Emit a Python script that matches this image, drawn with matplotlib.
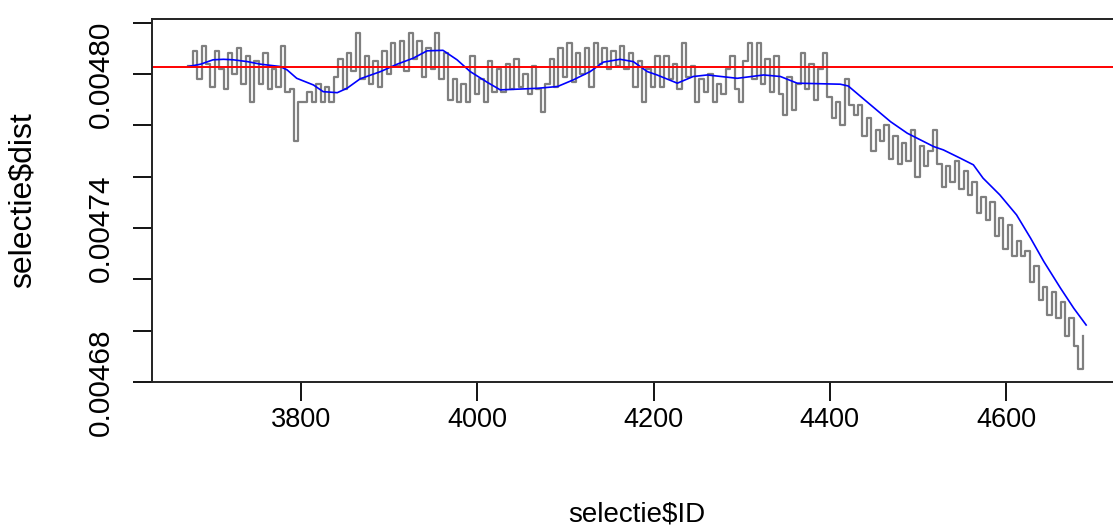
import numpy as np
import matplotlib
matplotlib.use("Agg")
import matplotlib.pyplot as plt

plt.rcParams["font.family"] = ["Liberation Sans", "DejaVu Sans"]

# selectie$dist, one value every 5 IDs starting at ID 3672 (step plot)
gray_start = 3672
gray_step = 5
gray_dist = [
    # 3672 - 3777
    0.004803, 0.004809, 0.004798, 0.004811, 0.004804, 0.004795, 0.004809, 0.004802,
    0.004794, 0.004808, 0.004800, 0.004810, 0.004796, 0.004807, 0.004789, 0.004805,
    0.004796, 0.004808, 0.004794, 0.004802, 0.004795, 0.004811,
    # 3782 - 3832
    0.004793, 0.004794, 0.004774, 0.004789, 0.004789, 0.004793, 0.004789, 0.004796,
    0.004789, 0.004795, 0.004789,
    # 3837 - 3887
    0.004799, 0.004806, 0.004794, 0.004808, 0.004801, 0.004816, 0.004798, 0.004807,
    0.004796, 0.004805, 0.004795,
    # 3892 - 3962
    0.004809, 0.004800, 0.004812, 0.004803, 0.004813, 0.004801, 0.004816, 0.004806,
    0.004813, 0.004799, 0.004810, 0.004802, 0.004816, 0.004798, 0.004808,
    # 3967 - 4022
    0.004790, 0.004798, 0.004789, 0.004796, 0.004789, 0.004807, 0.004792, 0.004798,
    0.004789, 0.004805, 0.004793, 0.004802,
    # 4027 - 4077
    0.004793, 0.004804, 0.004794, 0.004806, 0.004795, 0.004800, 0.004792, 0.004803,
    0.004794, 0.004785, 0.004796,
    # 4082 - 4132
    0.004806, 0.004795, 0.004810, 0.004799, 0.004812, 0.004797, 0.004808, 0.004800,
    0.004810, 0.004795, 0.004812,
    # 4137 - 4192
    0.004804, 0.004810, 0.004802, 0.004809, 0.004803, 0.004811, 0.004802, 0.004808,
    0.004795, 0.004805, 0.004789, 0.004802,
    # 4197 - 4292
    0.004795, 0.004807, 0.004795, 0.004807, 0.004798, 0.004804, 0.004794, 0.004812,
    0.004799, 0.004803, 0.004789, 0.004798, 0.004793, 0.004800, 0.004789, 0.004796,
    0.004792, 0.004802, 0.004807, 0.004794,
    # 4297 - 4392
    0.004789, 0.004805, 0.004812, 0.004798, 0.004812, 0.004796, 0.004806, 0.004793,
    0.004807, 0.004792, 0.004784, 0.004799, 0.004786, 0.004796, 0.004808, 0.004794,
    0.004804, 0.004790, 0.004802, 0.004808,
    # 4397 - 4492
    0.004791, 0.004783, 0.004789, 0.004780, 0.004798, 0.004788, 0.004784, 0.004788,
    0.004776, 0.004783, 0.004770, 0.004778, 0.004774, 0.004780, 0.004767, 0.004776,
    0.004765, 0.004773, 0.004766, 0.004778,
    # 4497 - 4592
    0.004760, 0.004772, 0.004764, 0.004770, 0.004778, 0.004765, 0.004756, 0.004764,
    0.004758, 0.004766, 0.004755, 0.004762, 0.004753, 0.004758, 0.004746, 0.004752,
    0.004743, 0.004750, 0.004737, 0.004744,
    # 4597 - 4687
    0.004732, 0.004741, 0.004729, 0.004735, 0.004729, 0.004731, 0.004719, 0.004725,
    0.004712, 0.004717, 0.004706, 0.004715, 0.004705, 0.004711, 0.004698, 0.004705,
    0.004694, 0.004685, 0.004698,
]
gray_id = np.arange(len(gray_dist)) * gray_step + gray_start

# smoothed curve
blue_id = [3672, 3686, 3700, 3712, 3723, 3739, 3754, 3776, 3784, 3795,
           3814, 3825, 3841, 3852, 3867, 3890, 3909, 3927, 3943, 3961,
           3977, 3992, 4011, 4026, 4041, 4068, 4091, 4109, 4128, 4143,
           4162, 4177, 4193, 4204, 4227, 4245, 4261, 4295, 4325, 4344,
           4363, 4412, 4421, 4442, 4469, 4488, 4503, 4518, 4529, 4548,
           4563, 4574, 4593, 4612, 4628, 4643, 4662, 4677, 4691]
blue_dist = [0.0048029, 0.0048038, 0.0048055, 0.0048057, 0.0048055,
             0.0048048, 0.0048038, 0.0048029, 0.0048016, 0.0047983,
             0.0047957, 0.0047931, 0.0047927, 0.0047944, 0.0047981,
             0.0048009, 0.0048038, 0.0048061, 0.0048090, 0.0048092,
             0.0048055, 0.0048009, 0.0047968, 0.0047938, 0.0047940,
             0.0047944, 0.0047951, 0.0047977, 0.0048009, 0.0048046,
             0.0048057, 0.0048048, 0.0048009, 0.0047996, 0.0047964,
             0.0047990, 0.0047996, 0.0047983, 0.0047996, 0.0047990,
             0.0047964, 0.0047960, 0.0047953, 0.0047892, 0.0047814,
             0.0047769, 0.0047743, 0.0047717, 0.0047704, 0.0047672,
             0.0047646, 0.0047594, 0.0047529, 0.0047451, 0.0047360,
             0.0047269, 0.0047165, 0.0047087, 0.0047022]

ref_level = 0.0048026

y_ticks = [0.00468, 0.00470, 0.00472, 0.00474, 0.00476, 0.00478, 0.00480, 0.00482]
y_tick_labels = ["0.00468", "", "", "0.00474", "", "", "0.00480", ""]
x_ticks = [3800, 4000, 4200, 4400, 4600]

W, H = 1113, 530
fig = plt.figure(figsize=(W / 100, H / 100), dpi=100)
ax = fig.add_axes([152.4 / W, (H - 382) / H, 970.4 / W, 363 / H])

ax.plot(gray_id, gray_dist, drawstyle="steps-post", color="#7f7f7f", lw=1.6)
ax.plot(blue_id, blue_dist, color="blue", lw=1.2)
ax.axhline(ref_level, color="red", lw=1.4)

ax.set_xlim(3631.2, 4732.6)
ax.set_ylim(0.00468, 0.0048214)

ax.set_xticks(x_ticks)
ax.set_xticklabels([str(t) for t in x_ticks], fontsize=19.5)
ax.set_yticks(y_ticks)
ax.set_yticklabels(y_tick_labels, fontsize=21.5, rotation=90, va="center")

ax.tick_params(axis="x", length=14, width=1.3, pad=4, color="black")
ax.tick_params(axis="y", length=14, width=1.3, pad=13, color="black")
for s in ax.spines.values():
    s.set_linewidth(1.4)
    s.set_color("#222222")

fig.text(637 / W, 1 - 515 / H, "selectie$ID", fontsize=20, ha="center", va="center")
fig.text(23 / W, 1 - 200 / H, "selectie$dist", fontsize=23, rotation=90,
         ha="center", va="center")

fig.savefig("out.png", dpi=100)
